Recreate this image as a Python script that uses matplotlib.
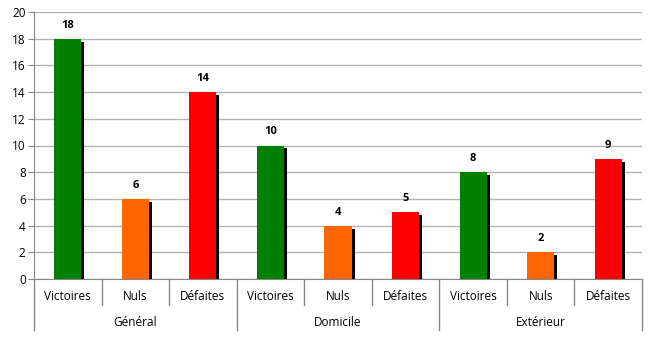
import matplotlib
matplotlib.use("Agg")
import matplotlib.pyplot as plt
import numpy as np

# ---------------- data ----------------
groups = ["Général", "Domicile", "Extérieur"]
categories = ["Victoires", "Nuls", "Défaites"]
values = [18, 6, 14, 10, 4, 5, 8, 2, 9]
colors = ["#008000", "#ff6600", "#ff0000"]

plt.rcParams['font.family'] = ['Open Sans', 'DejaVu Sans']

fig = plt.figure(figsize=(6.56, 3.38), dpi=100)
ax = fig.add_axes([34 / 656, 59 / 338, 608 / 656, 267 / 338])

n = len(values)
x = np.arange(n)
bar_colors = [colors[i % 3] for i in range(n)]

px_x = n / 608.0   # data units per pixel, x
px_y = 20 / 267.0  # data units per pixel, y

# shadow bars
ax.bar(x + 3 * px_x, [v - 3 * px_y for v in values], width=0.4, color="black", zorder=2)
ax.bar(x, values, width=0.4, color=bar_colors, zorder=3)

for xi, v in zip(x, values):
    ax.text(xi, v + 8 * px_y, str(v), ha="center", va="bottom",
            fontsize=8, fontweight="bold", zorder=4)

ax.set_xlim(-0.5, n - 0.5)
ax.set_ylim(0, 20)
ax.set_yticks(range(0, 21, 2))
ax.yaxis.grid(True, color="#b3b3b3", linewidth=1)
ax.set_axisbelow(True)
ax.tick_params(axis="y", labelsize=8.5, length=4, color="#868686", pad=2)
ax.set_xticks([])

for s in ["top", "right"]:
    ax.spines[s].set_visible(False)
ax.spines["left"].set_color("#868686")
ax.spines["bottom"].set_color("#868686")

# multi-level category axis
trans = ax.get_xaxis_transform()
ypix = 1 / 267.0
for i in range(n):
    ax.text(i, -17 * ypix, categories[i % 3], transform=trans, ha="center", va="center",
            fontsize=8.5, clip_on=False)
for i in range(n + 1):
    if i % 3 == 0:
        ax.plot([i - 0.5, i - 0.5], [0, -51 * ypix], transform=trans, color="#868686",
                linewidth=1, clip_on=False)
    else:
        ax.plot([i - 0.5, i - 0.5], [0, -26 * ypix], transform=trans, color="#868686",
                linewidth=1, clip_on=False)
for g, name in enumerate(groups):
    ax.text(3 * g + 1, -44 * ypix, name, transform=trans, ha="center", va="center",
            fontsize=8.5, clip_on=False)

fig.savefig("out.png", dpi=100)
